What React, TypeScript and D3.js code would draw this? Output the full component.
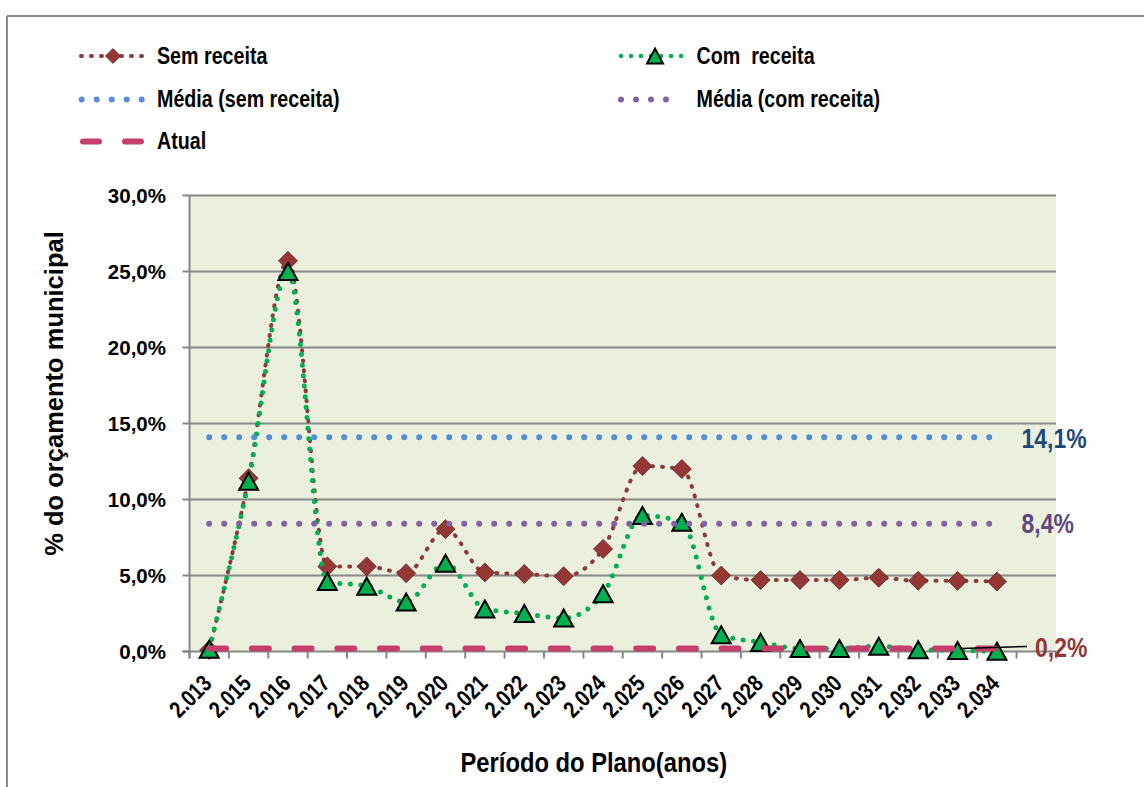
import React from "react";
import * as d3 from "d3";

const categories = ["2.013","2.015","2.016","2.017","2.018","2.019","2.020","2.021","2.022","2.023","2.024","2.025","2.026","2.027","2.028","2.029","2.030","2.031","2.032","2.033","2.034"];
const semReceita = [0.1, 11.4, 25.7, 5.6, 5.6, 5.15, 8.05, 5.2, 5.1, 4.95, 6.75, 12.2, 12.0, 5.0, 4.7, 4.7, 4.7, 4.85, 4.65, 4.65, 4.6];
const comReceita = [0.15, 11.2, 25.0, 4.6, 4.3, 3.25, 5.8, 2.8, 2.5, 2.2, 3.8, 8.95, 8.5, 1.1, 0.6, 0.2, 0.2, 0.35, 0.12, 0.06, 0.02];
const mediaSemReceita = 14.1;
const mediaComReceita = 8.4;
const atual = 0.2;
const yTicks = [0, 5, 10, 15, 20, 25, 30];
const yTickLabels = ["0,0%", "5,0%", "10,0%", "15,0%", "20,0%", "25,0%", "30,0%"];
const labelMediaSem = "14,1%";
const labelMediaCom = "8,4%";
const labelAtual = "0,2%";

const FONT = "'Liberation Sans', Arial, 'DejaVu Sans', sans-serif";
const C_SEM = "#8B3A3A";
const C_SEM_FILL = "#953735";
const C_COM = "#00B050";
const C_BLUE = "#558ED5";
const C_PURPLE = "#8064A2";
const C_ATUAL = "#C63E6B";
const C_GRID = "#878787";

const plotLeft = 189.5, plotRight = 1056, plotTop = 195.5, plotBottom = 651.5;
const slotCount = 22;

function Narrow({ x, y, size, sx = 0.82, fill = "#000", anchor = "start", rotate = 0, children }: any) {
  return (
    <text transform={`translate(${x},${y}) rotate(${rotate}) scale(${sx},1)`} textAnchor={anchor} fontFamily={FONT} fontWeight="bold" fontSize={size} fill={fill}>
      {children}
    </text>
  );
}

const diamondPath = (s: number) => `M0,${-s} L${s},0 L0,${s} L${-s},0Z`;
const trianglePath = (w: number, h: number) => `M0,${-h / 2} L${w / 2},${h / 2} L${-w / 2},${h / 2}Z`;

export default function App() {
  const x = d3.scaleLinear().domain([0, slotCount]).range([plotLeft, plotRight]);
  const cx = (i: number) => x(i + 0.5);
  const y = d3.scaleLinear().domain([0, 30]).range([plotBottom, plotTop]);

  const line = d3.line<number>().x((_, i) => cx(i)).y((d) => y(d)).curve(d3.curveMonotoneX);
  const first = cx(0);
  const last = cx(categories.length - 1);

  return (
    <svg width={1144} height={787} style={{ position: "absolute", left: 0, top: 0, background: "#fff" }}>
      {/* outer frame */}
      <line x1={7} y1={16} x2={1144} y2={16} stroke="#8c8c8c" strokeWidth={2} />
      <line x1={7} y1={16} x2={7} y2={787} stroke="#8c8c8c" strokeWidth={2} />

      {/* plot background */}
      <rect x={plotLeft} y={plotTop} width={plotRight - plotLeft} height={plotBottom - plotTop} fill="#EBEFDE" />

      {/* gridlines */}
      {yTicks.slice(1).map((t) => (
        <line key={t} x1={plotLeft} x2={plotRight} y1={y(t)} y2={y(t)} stroke={C_GRID} strokeWidth={2} />
      ))}
      {/* axes */}
      <line x1={plotLeft} x2={plotLeft} y1={plotTop} y2={plotBottom + 7} stroke={C_GRID} strokeWidth={2} />
      <line x1={plotLeft - 7} x2={plotRight} y1={plotBottom} y2={plotBottom} stroke={C_GRID} strokeWidth={2} />
      {yTicks.map((t) => (
        <line key={"yt" + t} x1={plotLeft - 7} x2={plotLeft} y1={y(t)} y2={y(t)} stroke={C_GRID} strokeWidth={2} />
      ))}
      {d3.range(slotCount + 1).map((i) => (
        <line key={"xt" + i} x1={x(i)} x2={x(i)} y1={plotBottom} y2={plotBottom + 7} stroke={C_GRID} strokeWidth={2} />
      ))}

      {/* y tick labels */}
      {yTicks.map((t, i) => (
        <text key={"yl" + t} x={166} y={y(t) + 7.5} textAnchor="end" fontFamily={FONT} fontWeight="bold" fontSize={20.5}>
          {yTickLabels[i]}
        </text>
      ))}
      {/* x tick labels */}
      {categories.map((c, i) => (
        <Narrow key={"xl" + c} x={cx(i) + 4} y={685} size={23.5} anchor="end" rotate={-45}>
          {c}
        </Narrow>
      ))}

      {/* Sem receita */}
      <path d={line(semReceita) || ""} fill="none" stroke={C_SEM} strokeWidth={4} strokeDasharray="1 9" strokeLinecap="round" />
      {semReceita.map((v, i) => (
        <path key={"d" + i} d={diamondPath(9.5)} transform={`translate(${cx(i)},${y(v)})`} fill={C_SEM_FILL} stroke="#5a2020" strokeWidth={0.8} />
      ))}

      {/* Com receita */}
      <path d={line(comReceita) || ""} fill="none" stroke={C_COM} strokeWidth={5} strokeDasharray="0 10.5" strokeLinecap="round" />
      {comReceita.map((v, i) => (
        <path key={"t" + i} d={trianglePath(19, 17)} transform={`translate(${cx(i)},${y(v)})`} fill={C_COM} stroke="#000" strokeWidth={2} strokeLinejoin="miter" />
      ))}

      {/* averages */}
      <line x1={first} x2={last} y1={y(mediaSemReceita)} y2={y(mediaSemReceita)} stroke={C_BLUE} strokeWidth={6} strokeDasharray="0 15" strokeLinecap="round" />
      <line x1={first} x2={last} y1={y(mediaComReceita)} y2={y(mediaComReceita)} stroke={C_PURPLE} strokeWidth={6} strokeDasharray="0 15" strokeLinecap="round" />
      {/* atual */}
      <line x1={first} x2={last} y1={y(atual)} y2={y(atual)} stroke={C_ATUAL} strokeWidth={6} strokeDasharray="17 25.7" strokeLinecap="round" />

      {/* leader line for 0,2% */}
      <line x1={961} y1={648.5} x2={1027} y2={646.5} stroke="#000" strokeWidth={1.5} />

      {/* data labels */}
      <Narrow x={1021.5} y={448} size={28} fill="#1F497D">{labelMediaSem}</Narrow>
      <Narrow x={1021.5} y={533} size={28} fill="#5F497A">{labelMediaCom}</Narrow>
      <Narrow x={1035} y={657} size={28} fill="#953735">{labelAtual}</Narrow>

      {/* axis titles */}
      <Narrow x={460.5} y={772} size={27} sx={0.88}>Período do Plano(anos)</Narrow>
      <text transform={`translate(63,393.5) rotate(-90)`} textAnchor="middle" fontFamily={FONT} fontWeight="bold" fontSize={25.5}>
        % do orçamento municipal
      </text>

      {/* legend */}
      <g>
        <line x1={81} x2={142} y1={56} y2={56} stroke={C_SEM} strokeWidth={4} strokeDasharray="1 9" strokeLinecap="round" />
        <path d={diamondPath(7.5)} transform="translate(113,56)" fill={C_SEM_FILL} stroke="#5a2020" strokeWidth={0.8} />
        <Narrow x={157} y={64.3} size={24}>Sem receita</Narrow>

        <line x1={621} x2={689} y1={56} y2={56} stroke={C_COM} strokeWidth={4.5} strokeDasharray="0 10" strokeLinecap="round" />
        <path d={trianglePath(16, 15)} transform="translate(655,56)" fill={C_COM} stroke="#000" strokeWidth={2} />
        <Narrow x={696.5} y={63.5} size={24}>{"Com\u00a0 receita"}</Narrow>

        <line x1={81.7} x2={142} y1={99.5} y2={99.5} stroke={C_BLUE} strokeWidth={6} strokeDasharray="0 15" strokeLinecap="round" />
        <Narrow x={157} y={106.5} size={24}>Média (sem receita)</Narrow>

        <line x1={621} x2={681} y1={99.5} y2={99.5} stroke={C_PURPLE} strokeWidth={6} strokeDasharray="0 15" strokeLinecap="round" />
        <Narrow x={696.5} y={106.5} size={24}>Média (com receita)</Narrow>

        <line x1={83} x2={145} y1={141.5} y2={141.5} stroke={C_ATUAL} strokeWidth={6} strokeDasharray="16 26" strokeLinecap="round" />
        <Narrow x={157} y={149.3} size={24}>Atual</Narrow>
      </g>
    </svg>
  );
}
